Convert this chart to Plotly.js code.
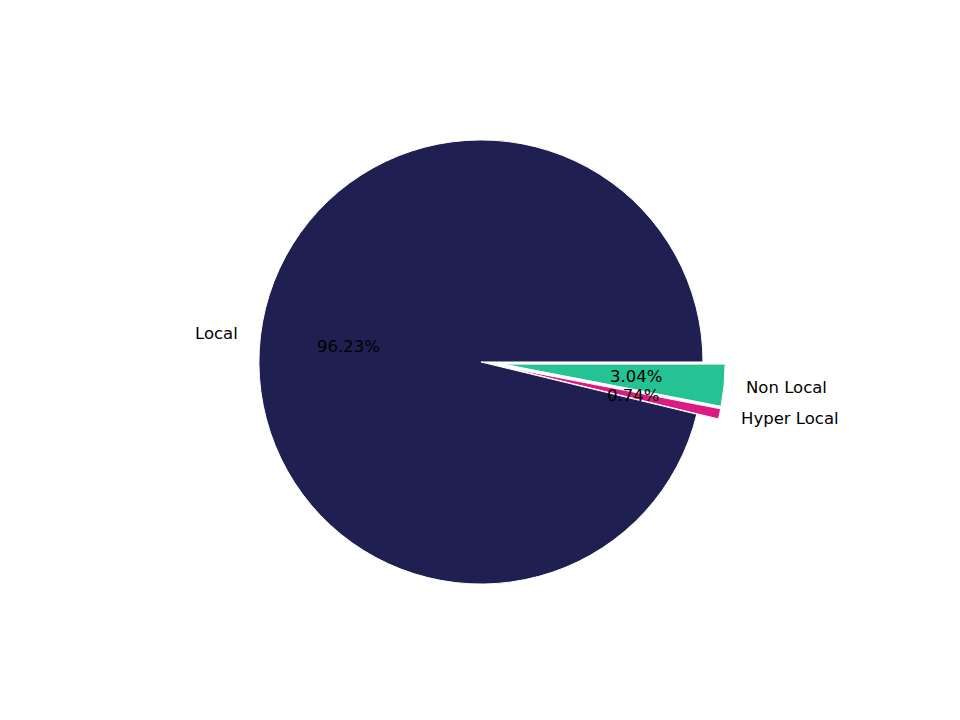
<!DOCTYPE html>
<html>
<head>
<meta charset="utf-8">
<script src="https://cdn.plot.ly/plotly-3.0.1.min.js"></script>
<style>
  html, body { margin: 0; padding: 0; background: #ffffff; }
  #chart { width: 960px; height: 720px; }
</style>
</head>
<body>
<div id="chart"></div>
<script>
// slice order follows the original: clockwise from 3 o'clock
const labels = ["Non Local", "Hyper Local", "Local"];
const shares = [3.04, 0.74, 96.23];
const pulls = [0.1, 0.1, 0];
const colors = ["#25c393", "#de1a82", "#1f1f51"];

const W = 960;
const H = 720;
const FONT = "\"DejaVu Sans\", sans-serif";
const FONT_SIZE = 16.5;

// pie box: Plotly shrinks the radius by (1 + max pull)
const domainX = [0.101, 0.901];
const domainY = [0.158, 0.8365];
const maxPull = Math.max(...pulls);
const cx = W * (domainX[0] + domainX[1]) / 2;
const cy = H * (2 - domainY[0] - domainY[1]) / 2;
const radius = Math.min(W * (domainX[1] - domainX[0]), H * (domainY[1] - domainY[0])) / (2 + 2 * maxPull);

// matplotlib-style text: labels at 1.1 r, percentages at 0.6 r, shifted with the pull
const total = shares.reduce((a, b) => a + b, 0);
const annotations = [];
let cum = 0;
shares.forEach((v, i) => {
  const mid = (cum + v / 2) / total * 2 * Math.PI; // clockwise, screen coords
  cum += v;
  const c = Math.cos(mid);
  const s = Math.sin(mid);
  const off = pulls[i] * radius;
  const lx = cx + off * c + 1.1 * radius * c;
  const ly = cy + off * s + 1.1 * radius * s;
  const px = cx + off * c + 0.6 * radius * c;
  const py = cy + off * s + 0.6 * radius * s;
  annotations.push({
    x: lx / W, y: 1 - ly / H, xref: "paper", yref: "paper",
    text: labels[i], showarrow: false, borderpad: 0, borderwidth: 0,
    xanchor: c >= 0 ? "left" : "right", yanchor: "middle",
    font: { family: FONT, size: FONT_SIZE, color: "#000000" },
  });
  annotations.push({
    x: px / W, y: 1 - py / H, xref: "paper", yref: "paper",
    text: v.toFixed(2) + "%", showarrow: false, borderpad: 0, borderwidth: 0,
    xanchor: "center", yanchor: "middle",
    font: { family: FONT, size: FONT_SIZE, color: "#000000" },
  });
});

const trace = {
  type: "pie",
  labels,
  values: shares,
  pull: pulls,
  sort: false,
  direction: "clockwise",
  rotation: 90,
  textinfo: "none",
  domain: { x: domainX, y: domainY },
  marker: { colors, line: { color: "#ffffff", width: 1 } },
  hovertemplate: "%{label}: %{value:.2f}%<extra></extra>",
};

const layout = {
  width: W,
  height: H,
  margin: { l: 0, r: 0, t: 0, b: 0 },
  paper_bgcolor: "#ffffff",
  plot_bgcolor: "#ffffff",
  showlegend: false,
  font: { family: FONT, color: "#000000" },
  annotations,
};

Plotly.newPlot("chart", [trace], layout, { displayModeBar: false, staticPlot: true });
</script>
</body>
</html>
